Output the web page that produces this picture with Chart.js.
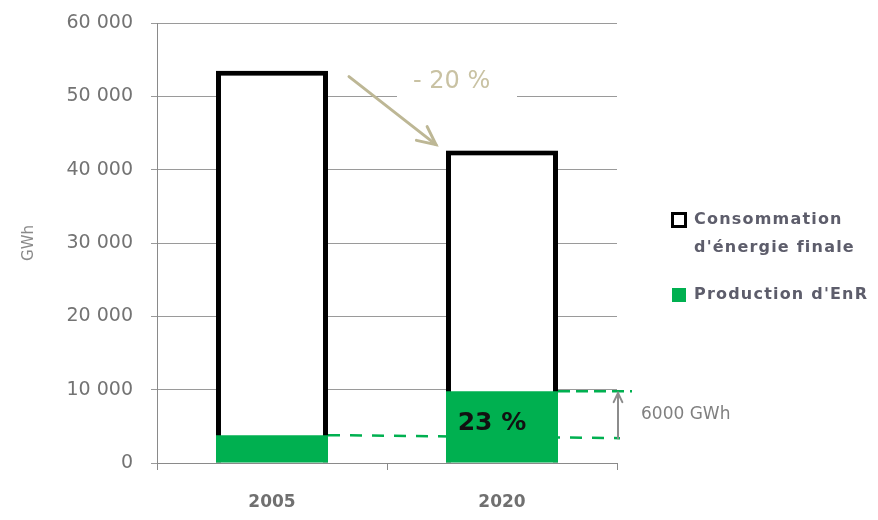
<!DOCTYPE html>
<html><head><meta charset="utf-8">
<script src="https://cdn.jsdelivr.net/npm/chart.js@4"></script>
<style>html,body{margin:0;padding:0;background:#fff}#wrap{width:878px;height:520px}</style>
</head><body><div id="wrap"><canvas id="c" width="878" height="520"></canvas></div>
<script>
const categories = ['2005', '2020'];
const consommation = [53500, 42600];
const productionEnR = [3800, 9800];
const yTicks = [0, 10000, 20000, 30000, 40000, 50000, 60000];
const seriesLabels = ["Consommation d'énergie finale", "Production d'EnR"];
const legendLines = [['Consommation', "d'énergie finale"], ["Production d'EnR"]];
const yTitle = 'GWh';

const GREEN = '#00b050';
const fmt = v => String(v).replace(/\B(?=(\d{3})+(?!\d))/g, ' ');

function arrow(ctx, x1, y1, x2, y2, head, color, width) {
  ctx.save();
  ctx.strokeStyle = color; ctx.lineWidth = width; ctx.lineCap = 'round';
  ctx.beginPath(); ctx.moveTo(x1, y1); ctx.lineTo(x2, y2); ctx.stroke();
  const a = Math.atan2(y2 - y1, x2 - x1);
  ctx.beginPath();
  ctx.moveTo(x2 - head * Math.cos(a - 0.45), y2 - head * Math.sin(a - 0.45));
  ctx.lineTo(x2, y2);
  ctx.lineTo(x2 - head * Math.cos(a + 0.45), y2 - head * Math.sin(a + 0.45));
  ctx.stroke();
  ctx.restore();
}

const annot = {
  id: 'annot',
  beforeDatasetsDraw(chart) {
    const ctx = chart.ctx, y = chart.scales.y;
    const m = chart.getDatasetMeta(0).data;
    const b0 = m[0], b1 = m[1];
    ctx.save();
    ctx.fillStyle = '#fff';
    ctx.fillRect((b0.x + b1.x) / 2 + 10, y.getPixelForValue(consommation[0]) - 8, 120, 40);
    ctx.strokeStyle = GREEN; ctx.lineWidth = 2.5; ctx.setLineDash([12, 10]);
    const yp0 = y.getPixelForValue(productionEnR[0]);
    ctx.beginPath(); ctx.moveTo(b0.x + b0.width / 2, yp0); ctx.lineTo(b1.x + b1.width / 2 + 62, yp0 + 3); ctx.stroke();
    ctx.restore();
  },
  beforeDatasetDraw(chart, args) {
    if (args.index === 0) {
      const ctx = chart.ctx; ctx.save();
      ctx.shadowColor = 'rgba(0,0,0,0.35)'; ctx.shadowBlur = 8; ctx.shadowOffsetX = -5;
    }
  },
  afterDatasetDraw(chart, args) { if (args.index === 0) chart.ctx.restore(); },
  afterDatasetsDraw(chart) {
    const ctx = chart.ctx, y = chart.scales.y;
    const m = chart.getDatasetMeta(0).data;
    const b0 = m[0], b1 = m[1];
    const yc0 = y.getPixelForValue(consommation[0]), yc1 = y.getPixelForValue(consommation[1]);
    const yp0 = y.getPixelForValue(productionEnR[0]), yp1 = y.getPixelForValue(productionEnR[1]);
    ctx.save();
    arrow(ctx, b0.x + b0.width / 2 + 21, yc0 + 6, b1.x - b1.width / 2 - 10, yc1 - 6, 20, '#bdb795', 3);
    const pct = Math.round((consommation[1] - consommation[0]) / consommation[0] * 100);
    ctx.fillStyle = '#c9c2a3'; ctx.font = '24px "DejaVu Sans"'; ctx.textAlign = 'left'; ctx.textBaseline = 'middle';
    ctx.fillText('- ' + Math.abs(pct) + ' %', (b0.x + b1.x) / 2 + 26, yc0 + 11);
    const share = Math.round(productionEnR[1] / consommation[1] * 100);
    ctx.fillStyle = '#111'; ctx.font = 'bold 25px "DejaVu Sans"'; ctx.textAlign = 'center';
    ctx.fillText(share + ' %', b1.x - 10, (yp1 + y.getPixelForValue(0)) / 2 - 4);
    ctx.strokeStyle = GREEN; ctx.lineWidth = 2.5; ctx.setLineDash([12, 6]);
    ctx.beginPath(); ctx.moveTo(b1.x + b1.width / 2, yp1); ctx.lineTo(b1.x + b1.width / 2 + 74, yp1); ctx.stroke();
    ctx.setLineDash([]);
    const ax = b1.x + b1.width / 2 + 60;
    arrow(ctx, ax, yp0 + 3, ax, yp1 + 2, 10, '#8c8c8c', 2);
    ctx.fillStyle = '#808080'; ctx.font = '17px "DejaVu Sans"'; ctx.textAlign = 'left';
    ctx.fillText(String(productionEnR[1] - productionEnR[0]) + ' GWh', ax + 23, (yp0 + yp1) / 2 + 1);
    ctx.restore();
  },
  afterDraw(chart) {
    const ctx = chart.ctx, ca = chart.chartArea;
    const lx = ca.right + 54, tx = lx + 23;
    ctx.save();
    ctx.fillStyle = '#000'; ctx.fillRect(lx, 212, 16, 16);
    ctx.fillStyle = '#fff'; ctx.fillRect(lx + 3, 215, 10, 10);
    ctx.fillStyle = GREEN; ctx.fillRect(lx + 1, 288, 14, 14);
    ctx.fillStyle = '#5d5d6b'; ctx.font = 'bold 16px "DejaVu Sans"';
    ctx.letterSpacing = '1.2px';
    ctx.textAlign = 'left'; ctx.textBaseline = 'middle';
    ctx.fillText(legendLines[0][0], tx, 220);
    ctx.fillText(legendLines[0][1], tx, 248);
    ctx.fillText(legendLines[1][0], tx, 295);
    ctx.restore();
  }
};

new Chart(document.getElementById('c'), {
  type: 'bar',
  data: {
    labels: categories,
    datasets: [
      { label: seriesLabels[0], data: consommation, backgroundColor: '#fff', borderColor: '#000',
        borderWidth: 5, grouped: false, order: 1 },
      { label: seriesLabels[1], data: productionEnR, backgroundColor: GREEN, borderWidth: 0,
        grouped: false, order: 0 }
    ]
  },
  options: {
    responsive: false, animation: false, devicePixelRatio: 1,
    layout: { padding: { left: 0, right: 261, top: 23, bottom: 0 } },
    categoryPercentage: 1, barPercentage: 0.487,
    plugins: { legend: { display: false }, tooltip: { enabled: false } },
    scales: {
      x: {
        afterFit: s => { s.height = 57; s.paddingLeft = 0; s.paddingRight = 0; },
        grid: { drawOnChartArea: false, tickLength: 7, color: '#8a8a8a' },
        border: { color: '#8a8a8a' },
        ticks: { color: '#707070', font: { family: 'DejaVu Sans', size: 17, weight: 'bold' }, padding: 22 }
      },
      y: {
        min: 0, max: 60000,
        afterFit: s => { s.width = 157; s.paddingTop = 0; s.paddingBottom = 0; },
        afterBuildTicks: s => { s.ticks = yTicks.map(v => ({ value: v })); },
        grid: { color: '#9a9a9a', tickLength: 6 },
        border: { color: '#8a8a8a' },
        ticks: { color: '#737373', font: { family: 'DejaVu Sans', size: 19 }, padding: 18, callback: v => fmt(v) },
        title: { display: true, text: yTitle, color: '#8a8a8a', font: { family: 'DejaVu Sans', size: 15 }, padding: { top: 20, bottom: 0 } }
      }
    }
  },
  plugins: [annot]
});
</script></body></html>
